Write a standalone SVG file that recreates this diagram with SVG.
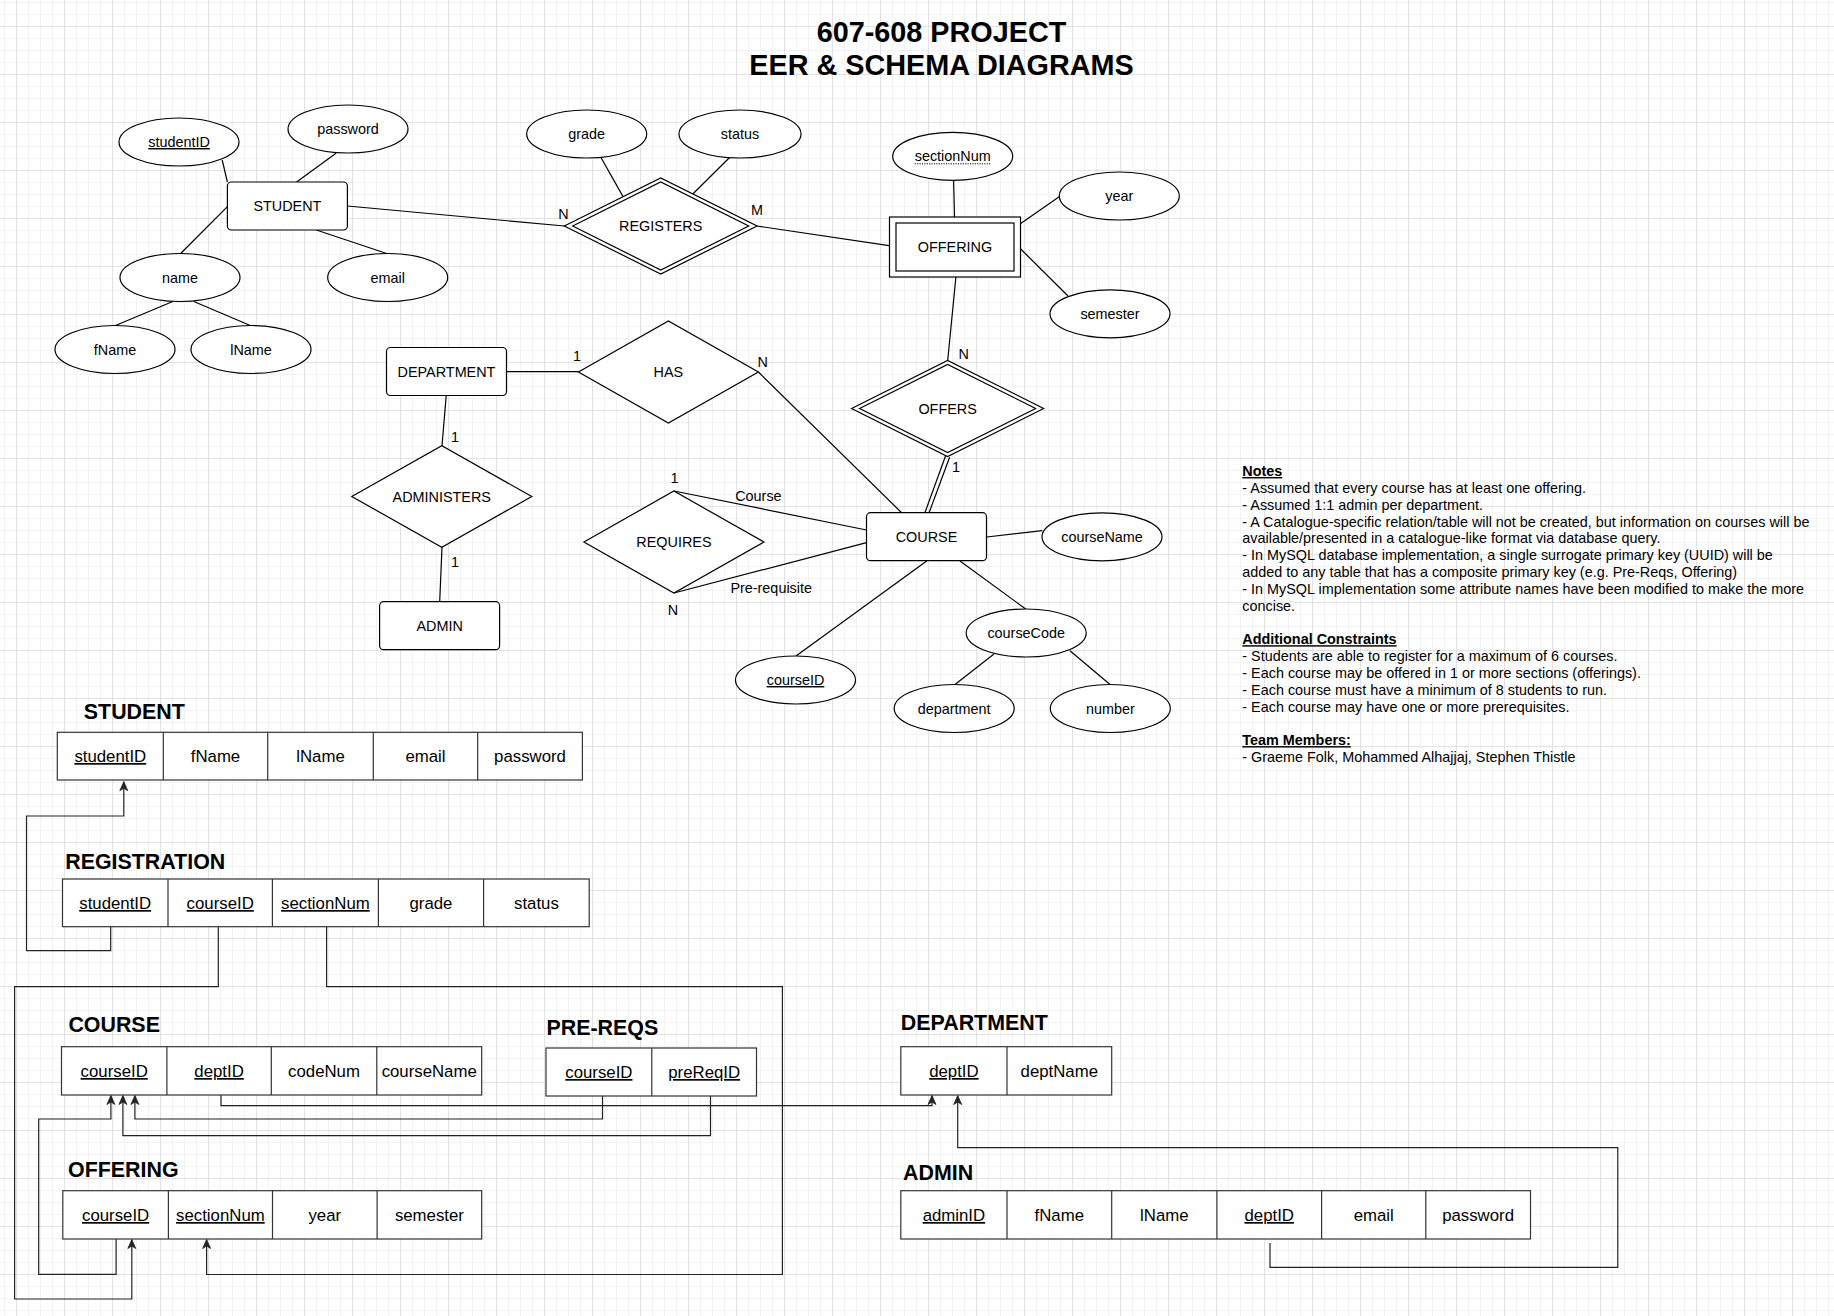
<svg xmlns="http://www.w3.org/2000/svg" width="1834" height="1316" viewBox="0 0 1834 1316">
<defs>
<pattern id="grid" x="16" y="26" width="48" height="48" patternUnits="userSpaceOnUse">
<path d="M12.5 0V48M24.5 0V48M36.5 0V48M0 12.5H48M0 24.5H48M0 36.5H48" stroke="#f3f3f3" stroke-width="1" fill="none"/>
<path d="M0.5 0V48M0 0.5H48" stroke="#e2e2e2" stroke-width="1" fill="none"/>
</pattern>
<marker id="arr" viewBox="-10 -5 11 10" refX="0" refY="0" markerWidth="11" markerHeight="10" markerUnits="userSpaceOnUse" orient="auto">
<path d="M0,0 L-9,-4 L-6.5,0 L-9,4 Z" fill="#222" stroke="#222" stroke-width="0.8"/>
</marker>
<style>
text{font-family:"Liberation Sans",Arial,sans-serif;fill:#000}
.er{fill:#fff;stroke:#000;stroke-width:1.2}
.lbl{font-size:14.4px;text-anchor:middle}
.lbls{font-size:14.4px}
.ln{stroke:#000;stroke-width:1.2;fill:none}
.tb{fill:#fff;stroke:#333;stroke-width:1.2}
.dv{stroke:#333;stroke-width:1.2}
.cell{font-size:16.8px;text-anchor:middle}
.u{text-decoration:underline}
.hd{font-size:21.4px;font-weight:bold}
.sl{stroke:#222;stroke-width:1.2;fill:none}
.note{font-size:14.4px}
.nh{font-weight:bold;text-decoration:underline}
</style>
</defs>
<rect x="0" y="0" width="1834" height="1316" fill="#fff"/>
<rect x="0" y="0" width="1834" height="1316" fill="url(#grid)"/>

<g id="title">
<text x="941.5" y="41.7" font-size="28.8" font-weight="bold" text-anchor="middle">607-608 PROJECT</text>
<text x="941.5" y="75" font-size="28.8" font-weight="bold" text-anchor="middle">EER &amp; SCHEMA DIAGRAMS</text>
</g>

<g id="connectors">
<!-- ER connectors -->
<line class="ln" x1="222.2" y1="160" x2="227.4" y2="182"/>
<line class="ln" x1="336" y1="153.3" x2="296.6" y2="182"/>
<line class="ln" x1="227.4" y1="206.7" x2="180.7" y2="253.5"/>
<line class="ln" x1="316.3" y1="230" x2="386.7" y2="253.5"/>
<line class="ln" x1="172.8" y1="301.5" x2="115.5" y2="325.5"/>
<line class="ln" x1="193.8" y1="301.5" x2="250.3" y2="325.5"/>
<line class="ln" x1="347.4" y1="206" x2="564.3" y2="226"/>
<line class="ln" x1="601" y1="157.5" x2="623" y2="196.6"/>
<line class="ln" x1="729.6" y1="157.5" x2="692.8" y2="194"/>
<line class="ln" x1="757.1" y1="226" x2="889" y2="245.7"/>
<line class="ln" x1="953.6" y1="180" x2="954.5" y2="217"/>
<line class="ln" x1="1059.2" y1="196.7" x2="1020" y2="224"/>
<line class="ln" x1="1068" y1="296" x2="1020" y2="248.3"/>
<line class="ln" x1="955.9" y1="277" x2="947.7" y2="360.5"/>
<line class="ln" x1="949.6" y1="457.2" x2="929" y2="513"/>
<line class="ln" x1="945.6" y1="455.8" x2="925" y2="512.5"/>
<line class="ln" x1="506.5" y1="371.7" x2="578.4" y2="371.7"/>
<line class="ln" x1="758.4" y1="372" x2="901.6" y2="512.7"/>
<line class="ln" x1="446.2" y1="395.7" x2="442" y2="445.7"/>
<line class="ln" x1="442" y1="547.3" x2="439.7" y2="601.7"/>
<line class="ln" x1="674" y1="491" x2="866.5" y2="530"/>
<line class="ln" x1="674" y1="593" x2="866.5" y2="542.7"/>
<line class="ln" x1="926.7" y1="561" x2="796" y2="656"/>
<line class="ln" x1="960" y1="561" x2="1025.7" y2="609"/>
<line class="ln" x1="986.7" y1="537" x2="1042.3" y2="530.7"/>
<line class="ln" x1="994" y1="654" x2="955" y2="684.5"/>
<line class="ln" x1="1070" y1="650.7" x2="1110" y2="684.5"/>
<!-- ER labels -->
<text class="lbl" x="563.5" y="219">N</text>
<text class="lbl" x="757" y="215">M</text>
<text class="lbl" x="577" y="361">1</text>
<text class="lbl" x="762.6" y="367">N</text>
<text class="lbl" x="963.7" y="359">N</text>
<text class="lbl" x="956" y="472">1</text>
<text class="lbl" x="454.9" y="442">1</text>
<text class="lbl" x="454.9" y="567">1</text>
<text class="lbl" x="674.4" y="483">1</text>
<text class="lbl" x="673" y="614.5">N</text>
<text class="lbl" x="758.4" y="501">Course</text>
<text class="lbl" x="771.2" y="593">Pre-requisite</text>
<!-- schema connectors -->
<path class="sl" d="M110.7 926.7V950.7H26.5V816H123.8V781.7" marker-end="url(#arr)"/>
<path class="sl" d="M218.3 926.7V986.7H14.6V1299H131.8V1239.5" marker-end="url(#arr)"/>
<path class="sl" d="M326.6 926.7V986.7H782.4V1274.5H206.6V1239.5" marker-end="url(#arr)"/>
<path class="sl" d="M116.1 1239V1274.3H38.7V1119H110.9V1095.5" marker-end="url(#arr)"/>
<path class="sl" d="M602.5 1096V1119H134.9V1095.5" marker-end="url(#arr)"/>
<path class="sl" d="M710.5 1096V1135.7H122.9V1095.5" marker-end="url(#arr)"/>
<path class="sl" d="M221 1052.5V1105.7H932V1095.5" marker-end="url(#arr)"/>
<path class="sl" d="M1270 1243V1267.3H1617.8V1147.7H957.7V1095.5" marker-end="url(#arr)"/>
</g>

<g id="er-student"><rect class="er" x="227.4" y="182" width="120" height="48" rx="4"/><text class="lbl" x="287.4" y="211">STUDENT</text></g>
<g id="er-studentID"><ellipse class="er" cx="179" cy="142" rx="60" ry="24"/><text class="lbl u" x="179" y="147">studentID</text></g>
<g id="er-password"><ellipse class="er" cx="348" cy="129" rx="60" ry="24"/><text class="lbl" x="348" y="134">password</text></g>
<g id="er-name"><ellipse class="er" cx="180" cy="277.5" rx="60" ry="24"/><text class="lbl" x="180" y="282.5">name</text></g>
<g id="er-email"><ellipse class="er" cx="387.7" cy="277.5" rx="60" ry="24"/><text class="lbl" x="387.7" y="282.5">email</text></g>
<g id="er-fName"><ellipse class="er" cx="115" cy="349.5" rx="60" ry="24"/><text class="lbl" x="115" y="354.5">fName</text></g>
<g id="er-lName"><ellipse class="er" cx="251" cy="349.5" rx="60" ry="24"/><text class="lbl" x="251" y="354.5">lName</text></g>

<g id="er-registers"><path class="er" d="M564.3 226L660.7 178L757.1 226L660.7 274Z"/><path class="er" d="M572.7 226L660.7 182L748.7 226L660.7 270Z"/><text class="lbl" x="660.7" y="231">REGISTERS</text></g>
<g id="er-grade"><ellipse class="er" cx="586.7" cy="134" rx="60" ry="24"/><text class="lbl" x="586.7" y="139">grade</text></g>
<g id="er-status"><ellipse class="er" cx="740" cy="134" rx="61" ry="24"/><text class="lbl" x="740" y="139">status</text></g>

<g id="er-offering"><rect class="er" x="889.5" y="217" width="131" height="60"/><rect class="er" x="896" y="223" width="118" height="48"/><text class="lbl" x="955" y="252">OFFERING</text></g>
<g id="er-sectionNum"><ellipse class="er" cx="952.7" cy="156.3" rx="60" ry="24"/><text class="lbl" x="952.7" y="161.3">sectionNum</text><line x1="914.7" y1="163.8" x2="990.7" y2="163.8" stroke="#000" stroke-width="1" stroke-dasharray="1.2,1.2"/></g>
<g id="er-year"><ellipse class="er" cx="1119.3" cy="196" rx="60" ry="24"/><text class="lbl" x="1119.3" y="201">year</text></g>
<g id="er-semester"><ellipse class="er" cx="1110" cy="313.8" rx="60" ry="24"/><text class="lbl" x="1110" y="318.8">semester</text></g>
<g id="er-offers"><path class="er" d="M851.6 408.5L947.6 360.5L1043.6 408.5L947.6 456.5Z"/><path class="er" d="M859.6 408.5L947.6 364.5L1035.6 408.5L947.6 452.5Z"/><text class="lbl" x="947.6" y="413.5">OFFERS</text></g>

<g id="er-department"><rect class="er" x="386.5" y="347.5" width="120" height="48" rx="4"/><text class="lbl" x="446.5" y="376.5">DEPARTMENT</text></g>
<g id="er-has"><path class="er" d="M578.4 372L668.4 321L758.4 372L668.4 423Z"/><text class="lbl" x="668.4" y="377">HAS</text></g>
<g id="er-administers"><path class="er" d="M351.8 496.5L441.8 445.7L531.8 496.5L441.8 547.3Z"/><text class="lbl" x="441.8" y="501.5">ADMINISTERS</text></g>
<g id="er-admin"><rect class="er" x="379.6" y="601.7" width="120" height="48" rx="4"/><text class="lbl" x="439.6" y="630.7">ADMIN</text></g>
<g id="er-requires"><path class="er" d="M583.9 542L673.9 491L763.9 542L673.9 593Z"/><text class="lbl" x="673.9" y="547">REQUIRES</text></g>

<g id="er-course"><rect class="er" x="866.5" y="512.7" width="120" height="48" rx="4"/><text class="lbl" x="926.5" y="541.7">COURSE</text></g>
<g id="er-courseName"><ellipse class="er" cx="1102" cy="536.8" rx="60" ry="24"/><text class="lbl" x="1102" y="541.8">courseName</text></g>
<g id="er-courseID"><ellipse class="er" cx="795.5" cy="680" rx="60" ry="24"/><text class="lbl u" x="795.5" y="685">courseID</text></g>
<g id="er-courseCode"><ellipse class="er" cx="1026.2" cy="633" rx="60" ry="24"/><text class="lbl" x="1026.2" y="638">courseCode</text></g>
<g id="er-department-attr"><ellipse class="er" cx="954.2" cy="708.5" rx="60" ry="24"/><text class="lbl" x="954.2" y="713.5">department</text></g>
<g id="er-number"><ellipse class="er" cx="1110.3" cy="708.5" rx="60" ry="24"/><text class="lbl" x="1110.3" y="713.5">number</text></g>

<g id="notes" class="note">
<text x="1242.3" y="476" class="nh">Notes</text>
<text x="1242.3" y="492.8">- Assumed that every course has at least one offering.</text>
<text x="1242.3" y="509.6">- Assumed 1:1 admin per department.</text>
<text x="1242.3" y="526.5">- A Catalogue-specific relation/table will not be created, but information on courses will be</text>
<text x="1242.3" y="543.3">available/presented in a catalogue-like format via database query.</text>
<text x="1242.3" y="560.1">- In MySQL database implementation, a single surrogate primary key (UUID) will be</text>
<text x="1242.3" y="576.9">added to any table that has a composite primary key (e.g. Pre-Reqs, Offering)</text>
<text x="1242.3" y="593.7">- In MySQL implementation some attribute names have been modified to make the more</text>
<text x="1242.3" y="610.6">concise.</text>
<text x="1242.3" y="644.2" class="nh">Additional Constraints</text>
<text x="1242.3" y="661">- Students are able to register for a maximum of 6 courses.</text>
<text x="1242.3" y="677.8">- Each course may be offered in 1 or more sections (offerings).</text>
<text x="1242.3" y="694.7">- Each course must have a minimum of 8 students to run.</text>
<text x="1242.3" y="711.5">- Each course may have one or more prerequisites.</text>
<text x="1242.3" y="745.1" class="nh">Team Members:</text>
<text x="1242.3" y="762">- Graeme Folk, Mohammed Alhajjaj, Stephen Thistle</text>
</g>

<g id="tbl-student">
<text class="hd" x="83.8" y="719.3">STUDENT</text>
<rect class="tb" x="57.3" y="732.3" width="525.1" height="47.7"/>
<path class="dv" d="M163.3 732.3V780M267.7 732.3V780M373.3 732.3V780M477.7 732.3V780"/>
<text class="cell u" x="110.3" y="762">studentID</text><text class="cell" x="215.5" y="762">fName</text><text class="cell" x="320.5" y="762">lName</text><text class="cell" x="425.5" y="762">email</text><text class="cell" x="530" y="762">password</text>
</g>
<g id="tbl-registration">
<text class="hd" x="65.2" y="869.3">REGISTRATION</text>
<rect class="tb" x="62.5" y="879" width="526.7" height="47.7"/>
<path class="dv" d="M168 879V926.7M272.4 879V926.7M378.4 879V926.7M483.6 879V926.7"/>
<text class="cell u" x="115.2" y="909">studentID</text><text class="cell u" x="220.2" y="909">courseID</text><text class="cell u" x="325.4" y="909">sectionNum</text><text class="cell" x="431" y="909">grade</text><text class="cell" x="536.4" y="909">status</text>
</g>
<g id="tbl-course">
<text class="hd" x="68.4" y="1031.7">COURSE</text>
<rect class="tb" x="61.5" y="1046.7" width="420.2" height="48.3"/>
<path class="dv" d="M166.9 1046.7V1095M271.3 1046.7V1095M376.8 1046.7V1095"/>
<text class="cell u" x="114.2" y="1077">courseID</text><text class="cell u" x="219.1" y="1077">deptID</text><text class="cell" x="324" y="1077">codeNum</text><text class="cell" x="429.2" y="1077">courseName</text>
</g>
<g id="tbl-prereqs">
<text class="hd" x="546.5" y="1035">PRE-REQS</text>
<rect class="tb" x="546" y="1048" width="210.5" height="48"/>
<path class="dv" d="M651.8 1048V1096"/>
<text class="cell u" x="598.9" y="1078">courseID</text><text class="cell u" x="704.2" y="1078">preReqID</text>
</g>
<g id="tbl-offering">
<text class="hd" x="68" y="1176.7">OFFERING</text>
<rect class="tb" x="62.8" y="1190.7" width="418.9" height="48.3"/>
<path class="dv" d="M168.4 1190.7V1239M272.5 1190.7V1239M377.1 1190.7V1239"/>
<text class="cell u" x="115.6" y="1221">courseID</text><text class="cell u" x="220.4" y="1221">sectionNum</text><text class="cell" x="324.8" y="1221">year</text><text class="cell" x="429.4" y="1221">semester</text>
</g>
<g id="tbl-department">
<text class="hd" x="900.8" y="1030">DEPARTMENT</text>
<rect class="tb" x="900.8" y="1046.7" width="210.9" height="48.3"/>
<path class="dv" d="M1007 1046.7V1095"/>
<text class="cell u" x="953.9" y="1077">deptID</text><text class="cell" x="1059.3" y="1077">deptName</text>
</g>
<g id="tbl-admin">
<text class="hd" x="903" y="1180">ADMIN</text>
<rect class="tb" x="900.8" y="1190.7" width="629.7" height="48.3"/>
<path class="dv" d="M1007 1190.7V1239M1111.7 1190.7V1239M1216.9 1190.7V1239M1321.6 1190.7V1239M1425.8 1190.7V1239"/>
<text class="cell u" x="953.9" y="1221">adminID</text><text class="cell" x="1059.3" y="1221">fName</text><text class="cell" x="1164.3" y="1221">lName</text><text class="cell u" x="1269.2" y="1221">deptID</text><text class="cell" x="1373.7" y="1221">email</text><text class="cell" x="1478.1" y="1221">password</text>
</g>
</svg>
